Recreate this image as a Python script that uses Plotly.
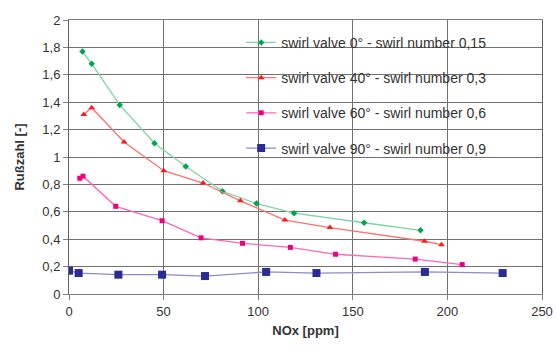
import plotly.graph_objects as go

# Data
x_0 = [7.1, 12.0, 26.8, 45.2, 61.7, 81.1, 99.1, 119.0, 156.0, 185.8]
y_0 = [1.77, 1.68, 1.38, 1.10, 0.93, 0.75, 0.66, 0.59, 0.52, 0.465]

x_40 = [7.8, 12.0, 29.1, 50.1, 70.9, 90.6, 114.1, 137.9, 187.9, 196.9]
y_40 = [1.31, 1.36, 1.11, 0.90, 0.81, 0.68, 0.54, 0.485, 0.385, 0.36]

x_60 = [5.7, 7.4, 24.7, 49.2, 69.8, 91.7, 117.0, 140.9, 183.0, 207.8]
y_60 = [0.845, 0.86, 0.64, 0.535, 0.41, 0.37, 0.34, 0.29, 0.255, 0.215]

x_90 = [0.0, 5.1, 26.1, 49.2, 71.9, 104.2, 130.8, 188.1, 229.2]
y_90 = [0.17, 0.153, 0.141, 0.141, 0.131, 0.161, 0.153, 0.161, 0.153]

names = [
    "swirl valve 0° - swirl number 0,15",
    "swirl valve 40° - swirl number 0,3",
    "swirl valve 60° - swirl number 0,6",
    "swirl valve 90° - swirl number 0,9",
]

x_ticks = [0, 50, 100, 150, 200, 250]
y_ticks = [0, 0.2, 0.4, 0.6, 0.8, 1.0, 1.2, 1.4, 1.6, 1.8, 2.0]

series = [
    (x_0, y_0, names[0], "#7fd4a0", "#00a550", "diamond", 5),
    (x_40, y_40, names[1], "#ff7070", "#ff1a1a", "triangle-up", 6),
    (x_60, y_60, names[2], "#ff66b8", "#f0007f", "square", 5),
    (x_90, y_90, names[3], "#8c8cc8", "#2b2b96", "square", 8),
]

fig = go.Figure()
for i, (xs, ys, nm, lc, mc, sym, ms) in enumerate(series):
    fig.add_trace(go.Scatter(
        x=xs, y=ys, name=nm, mode="lines+markers",
        line=dict(color=lc, width=1.3),
        marker=dict(color=mc, symbol=sym, size=ms, line=dict(width=0)),
        legendgroup=f"g{i}", cliponaxis=True,
    ))

fig.update_layout(
    width=556, height=356,
    margin=dict(l=69, r=14, t=20, b=62),
    paper_bgcolor="white", plot_bgcolor="white",
    separators=",.",
    font=dict(family="Liberation Sans, Arial, sans-serif", size=13, color="#333333"),
    showlegend=True,
    legend=dict(
        x=0.364, y=0.975, xanchor="left", yanchor="top",
        bgcolor="rgba(0,0,0,0)", borderwidth=0,
        font=dict(size=14, color="#333333"),
        tracegroupgap=14, itemwidth=30,
    ),
)
fig.update_xaxes(
    range=[0, 250], tickvals=x_ticks, showgrid=True, gridcolor="#707070", gridwidth=1,
    showline=True, linecolor="#808080", linewidth=1, mirror=True,
    ticks="outside", ticklen=5, tickcolor="#808080", zeroline=False,
    automargin=False,
    title=dict(text="<b>NOx [ppm]</b>", font=dict(size=13, color="#333333"), standoff=8),
)
fig.update_yaxes(
    range=[0, 2], tickvals=y_ticks, showgrid=True, gridcolor="#707070", gridwidth=1,
    showline=True, linecolor="#606060", linewidth=1, mirror=True,
    ticks="outside", ticklen=5, tickcolor="#808080", zeroline=False,
    automargin=False,
    title=dict(text="<b>Rußzahl [-]</b>", font=dict(size=13, color="#333333"), standoff=14),
)

fig.write_html(
    "out.html",
    config={"displayModeBar": False},
    post_script="document.body.style.margin='0';document.body.style.overflow='hidden';",
)
